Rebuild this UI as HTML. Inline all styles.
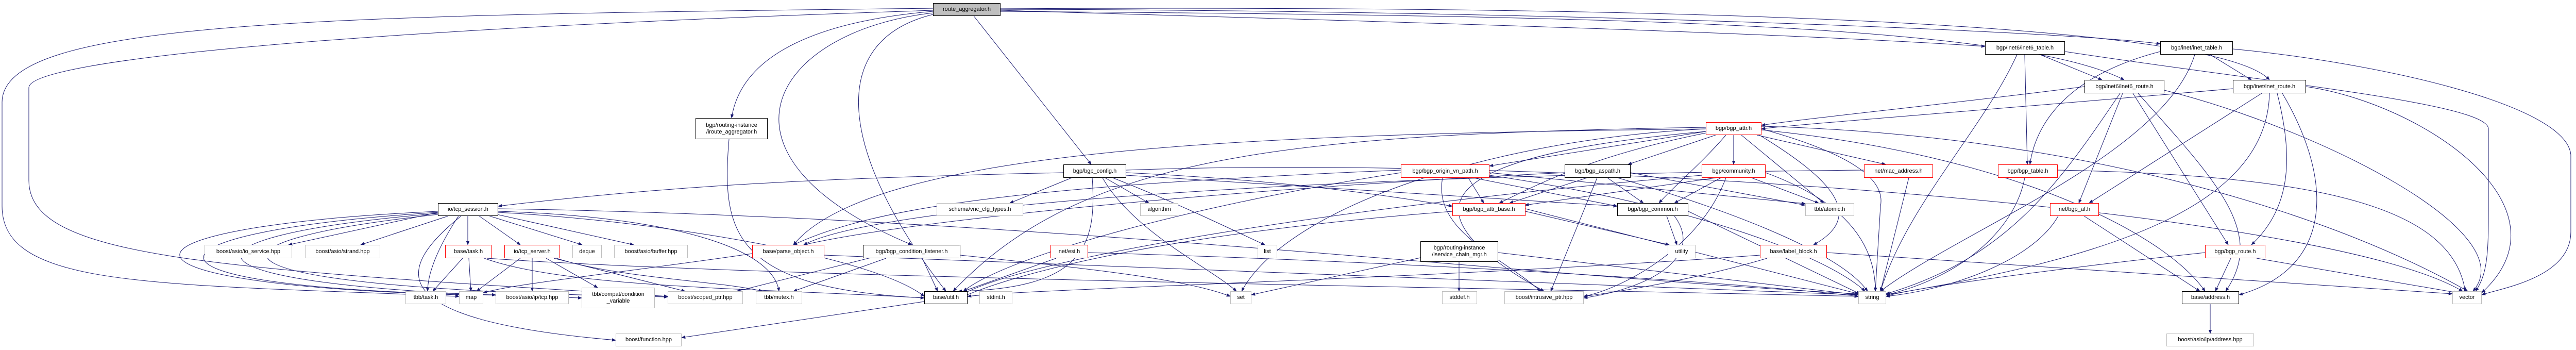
<!DOCTYPE html>
<html><head><meta charset="utf-8"><style>
body{margin:0;width:5090px;height:679px;background:#fff;position:relative;overflow:hidden;font-family:"Liberation Sans",sans-serif}
svg{position:absolute;left:0;top:0}
.n{position:absolute;box-sizing:border-box;border:1px solid #bfbfbf;background:#fff;font-size:11px;line-height:13px;color:#000;display:flex;align-items:center;justify-content:center;text-align:center;white-space:nowrap}
.b{border:1.5px solid #000}
.r{border:1.5px solid #f00}
.g{background:#bfbfbf;border:1.5px solid #000}
</style></head><body>
<svg width="5090" height="679" viewBox="0 0 5090 679">
<defs><marker id="a" viewBox="0 0 10 10" refX="9" refY="5" markerWidth="8" markerHeight="8" orient="auto"><path d="M0,1 L10,5 L0,9 z" fill="#191970"/></marker></defs>
<g fill="none" stroke="#191970" stroke-width="1" marker-end="url(#a)">
<path d="M1811,22 C1600,40 1440,100 1420,229"/>
<path d="M1890,31 L2118,319"/>
<path d="M1811,25 C1500,60 1350,300 1770,475"/>
<path d="M1811,28 C1600,80 1630,300 1836,565"/>
<path d="M1811,16 C600,30 0,40 4,200 L4,400 C4,560 300,550 891,575"/>
<path d="M1811,20 C600,60 56,120 56,170 L56,350 C56,500 400,520 1296,575"/>
<path d="M1942,20 C2600,40 3400,60 3853,90"/>
<path d="M1942,18 C3000,20 4000,60 4193,85"/>
<path d="M1942,22 C3000,30 3900,40 4123,155"/>
<path d="M1942,17 C3200,10 4300,40 4405,155"/>
<path d="M1415,270 C1400,450 1420,560 1794,578"/>
<path d="M2080,345 L1960,394"/>
<path d="M2145,345 L2230,394"/>
<path d="M2140,345 C2200,450 2350,520 2400,565"/>
<path d="M2120,345 C2130,480 2100,560 1860,565"/>
<path d="M2064,335 C1600,345 1300,360 967,400"/>
<path d="M2160,345 C2300,400 2400,450 2455,475"/>
<path d="M2186,340 L3139,400"/>
<path d="M2186,335 C2500,350 2700,380 2819,400"/>
<path d="M2186,330 C3000,300 4500,400 4780,565"/>
<path d="M850,412 L560,475"/>
<path d="M870,419 L700,475"/>
<path d="M908,419 L908,475"/>
<path d="M930,419 L1010,475"/>
<path d="M950,419 L1130,475"/>
<path d="M960,415 L1230,475"/>
<path d="M890,419 C850,480 830,530 830,565"/>
<path d="M850,410 C200,440 150,550 891,572"/>
<path d="M850,412 C250,450 200,560 962,572"/>
<path d="M850,414 C300,460 300,560 1129,578"/>
<path d="M850,416 C350,470 350,560 1296,576"/>
<path d="M967,410 C1300,420 1500,480 1512,565"/>
<path d="M895,419 C770,520 730,620 1195,660"/>
<path d="M967,412 C1300,430 1700,500 1794,575"/>
<path d="M967,405 C2000,420 3000,540 3607,570"/>
<path d="M898,501 L840,565"/>
<path d="M910,501 L914,565"/>
<path d="M940,501 C1100,560 1500,560 1794,578"/>
<path d="M945,501 C1500,540 3000,560 3607,575"/>
<path d="M1010,501 L925,565"/>
<path d="M1033,501 L1033,565"/>
<path d="M1060,501 L1160,558"/>
<path d="M1075,501 L1330,565"/>
<path d="M1080,501 C1200,540 1400,545 1480,565"/>
<path d="M1600,495 C2500,530 3300,560 3607,572"/>
<path d="M1460,492 C1200,530 1000,550 938,568"/>
<path d="M1720,501 L1540,565"/>
<path d="M1790,501 L1820,565"/>
<path d="M1690,500 L1430,565"/>
<path d="M1864,495 C2100,520 2300,540 2388,575"/>
<path d="M2050,501 L1870,565"/>
<path d="M2112,490 C2800,510 3400,550 3607,575"/>
<path d="M1794,585 L1323,655"/>
<path d="M3311,255 L2891,322"/>
<path d="M3330,262 L3160,319"/>
<path d="M3365,262 L3365,319"/>
<path d="M3410,262 L3660,319"/>
<path d="M3380,262 L3540,394"/>
<path d="M3311,258 C3100,300 3000,350 2910,394"/>
<path d="M3415,262 C3560,350 3620,420 3520,475"/>
<path d="M3419,250 C3600,300 3660,350 3650,400 L3640,565"/>
<path d="M3311,250 C2500,260 1700,280 1540,475"/>
<path d="M3311,255 C2800,300 2700,400 2997,565"/>
<path d="M3419,245 C4000,260 4500,400 4790,565"/>
<path d="M3419,252 C3900,300 4200,450 4280,565"/>
<path d="M3311,247 C2500,260 2100,300 1850,565"/>
<path d="M3311,250 C2900,270 2500,400 2410,565"/>
<path d="M3350,262 C3300,320 3250,360 3220,394"/>
<path d="M4046,168 C3800,200 3500,230 3419,243"/>
<path d="M4334,172 C3900,210 3500,240 3419,250"/>
<path d="M3960,106 L4080,155"/>
<path d="M3930,106 L3935,319"/>
<path d="M4008,100 C4400,160 4830,200 4830,250 L4830,400 C4830,480 4830,530 4805,565"/>
<path d="M3915,106 C3850,250 3700,400 3650,565"/>
<path d="M4290,106 L4370,155"/>
<path d="M4193,100 C4000,150 3950,250 3940,319"/>
<path d="M4334,95 C4600,120 4980,200 4990,300 L4990,450 C4990,540 4850,560 4817,572"/>
<path d="M4260,106 C4200,300 3800,450 3650,565"/>
<path d="M4120,181 L4035,394"/>
<path d="M4140,181 L4325,475"/>
<path d="M4150,181 C4300,350 4400,450 4320,565"/>
<path d="M4115,181 C4000,350 3900,500 3661,570"/>
<path d="M4201,175 C4500,250 4900,450 4800,565"/>
<path d="M4390,181 L4055,394"/>
<path d="M4420,181 C4450,300 4450,400 4370,475"/>
<path d="M4430,181 C4530,350 4530,520 4346,572"/>
<path d="M4405,181 C4400,400 4100,500 3661,572"/>
<path d="M4476,168 C4700,200 5000,400 4817,568"/>
<path d="M3930,345 C3910,450 3800,540 3661,572"/>
<path d="M3994,330 C4500,340 4760,400 4785,565"/>
<path d="M4045,419 L4270,565"/>
<path d="M3995,419 C3950,500 3800,560 3661,575"/>
<path d="M4330,501 L4300,565"/>
<path d="M4380,501 L4770,568"/>
<path d="M4280,490 C4000,520 3700,560 3661,575"/>
<path d="M4290,590 L4290,647"/>
<path d="M2850,345 L2880,394"/>
<path d="M2860,345 L3139,400"/>
<path d="M2800,345 C2780,450 2920,500 2990,565"/>
<path d="M2891,340 C3300,400 3550,500 3620,565"/>
<path d="M2891,335 L3504,395"/>
<path d="M2719,335 C2300,400 1950,500 1870,565"/>
<path d="M2719,330 C2000,360 1700,400 1540,475"/>
<path d="M3080,345 L2930,394"/>
<path d="M3120,345 L3190,394"/>
<path d="M3100,345 L3010,565"/>
<path d="M3140,345 C3400,420 3580,500 3625,565"/>
<path d="M3165,335 L3504,398"/>
<path d="M3037,335 C2500,360 1800,420 1560,475"/>
<path d="M3330,345 L2960,398"/>
<path d="M3340,345 L3250,394"/>
<path d="M3400,345 L3530,394"/>
<path d="M3350,345 C3300,480 3150,560 3074,575"/>
<path d="M3427,335 C3550,380 3640,450 3640,565"/>
<path d="M3303,340 C2600,400 2000,500 1870,570"/>
<path d="M3705,345 L3650,565"/>
<path d="M3618,330 C2500,340 1700,400 1560,475"/>
<path d="M2961,410 L3240,475"/>
<path d="M2961,405 L3607,570"/>
<path d="M2819,410 C2300,450 2000,520 1870,575"/>
<path d="M3235,419 L3255,475"/>
<path d="M3250,419 C3310,500 3200,560 3074,578"/>
<path d="M3277,410 L3610,570"/>
<path d="M2832,508 L2832,565"/>
<path d="M2908,490 L3607,572"/>
<path d="M2757,500 L2429,572"/>
<path d="M3430,501 C3300,540 3150,565 3074,575"/>
<path d="M3546,490 L4760,570"/>
<path d="M3416,495 C2800,540 2000,560 1878,575"/>
</g>
</svg>
<div class="n g" style="left:1811px;top:6px;width:131px;height:25px">route_aggregator.h</div>
<div class="n b" style="left:1350px;top:229px;width:140px;height:41px">bgp/routing-instance<br>/iroute_aggregator.h</div>
<div class="n b" style="left:2064px;top:319px;width:122px;height:26px">bgp/bgp_config.h</div>
<div class="n b" style="left:850px;top:394px;width:117px;height:25px">io/tcp_session.h</div>
<div class="n" style="left:1818px;top:394px;width:168px;height:25px">schema/vnc_cfg_types.h</div>
<div class="n" style="left:2213px;top:394px;width:74px;height:25px">algorithm</div>
<div class="n" style="left:397px;top:475px;width:170px;height:26px">boost/asio/io_service.hpp</div>
<div class="n" style="left:592px;top:475px;width:146px;height:26px">boost/asio/strand.hpp</div>
<div class="n r" style="left:864px;top:475px;width:90px;height:26px">base/task.h</div>
<div class="n r" style="left:979px;top:475px;width:108px;height:26px">io/tcp_server.h</div>
<div class="n" style="left:1111px;top:475px;width:57px;height:26px">deque</div>
<div class="n" style="left:1192px;top:475px;width:143px;height:26px">boost/asio/buffer.hpp</div>
<div class="n r" style="left:1460px;top:475px;width:140px;height:26px">base/parse_object.h</div>
<div class="n b" style="left:1675px;top:475px;width:189px;height:26px">bgp/bgp_condition_listener.h</div>
<div class="n r" style="left:2039px;top:475px;width:73px;height:26px">net/esi.h</div>
<div class="n" style="left:2441px;top:475px;width:38px;height:26px">list</div>
<div class="n" style="left:787px;top:565px;width:79px;height:25px">tbb/task.h</div>
<div class="n" style="left:891px;top:565px;width:47px;height:25px">map</div>
<div class="n" style="left:962px;top:565px;width:142px;height:25px">boost/asio/ip/tcp.hpp</div>
<div class="n" style="left:1129px;top:558px;width:142px;height:40px">tbb/compat/condition<br>_variable</div>
<div class="n" style="left:1296px;top:565px;width:146px;height:25px">boost/scoped_ptr.hpp</div>
<div class="n" style="left:1467px;top:565px;width:90px;height:25px">tbb/mutex.h</div>
<div class="n b" style="left:1794px;top:565px;width:84px;height:25px">base/util.h</div>
<div class="n" style="left:1901px;top:565px;width:64px;height:25px">stdint.h</div>
<div class="n" style="left:2388px;top:565px;width:41px;height:25px">set</div>
<div class="n" style="left:1195px;top:647px;width:128px;height:25px">boost/function.hpp</div>
<div class="n r" style="left:3311px;top:237px;width:108px;height:25px">bgp/bgp_attr.h</div>
<div class="n r" style="left:2719px;top:319px;width:172px;height:26px">bgp/bgp_origin_vn_path.h</div>
<div class="n b" style="left:3037px;top:319px;width:128px;height:26px">bgp/bgp_aspath.h</div>
<div class="n r" style="left:3303px;top:319px;width:124px;height:26px">bgp/community.h</div>
<div class="n r" style="left:3618px;top:319px;width:134px;height:26px">net/mac_address.h</div>
<div class="n r" style="left:3878px;top:319px;width:116px;height:26px">bgp/bgp_table.h</div>
<div class="n r" style="left:2819px;top:394px;width:142px;height:25px">bgp/bgp_attr_base.h</div>
<div class="n b" style="left:3139px;top:394px;width:138px;height:25px">bgp/bgp_common.h</div>
<div class="n" style="left:3504px;top:394px;width:95px;height:25px">tbb/atomic.h</div>
<div class="n r" style="left:3979px;top:394px;width:95px;height:25px">net/bgp_af.h</div>
<div class="n b" style="left:2757px;top:468px;width:151px;height:40px">bgp/routing-instance<br>/iservice_chain_mgr.h</div>
<div class="n" style="left:3237px;top:475px;width:54px;height:26px">utility</div>
<div class="n r" style="left:3416px;top:475px;width:130px;height:26px">base/label_block.h</div>
<div class="n r" style="left:4280px;top:475px;width:117px;height:26px">bgp/bgp_route.h</div>
<div class="n" style="left:2799px;top:565px;width:68px;height:25px">stddef.h</div>
<div class="n" style="left:2920px;top:565px;width:154px;height:25px">boost/intrusive_ptr.hpp</div>
<div class="n" style="left:3607px;top:565px;width:54px;height:25px">string</div>
<div class="n b" style="left:4235px;top:565px;width:111px;height:25px">base/address.h</div>
<div class="n" style="left:4760px;top:565px;width:57px;height:25px">vector</div>
<div class="n" style="left:4205px;top:647px;width:170px;height:25px">boost/asio/ip/address.hpp</div>
<div class="n b" style="left:3853px;top:80px;width:155px;height:26px">bgp/inet6/inet6_table.h</div>
<div class="n b" style="left:4193px;top:80px;width:141px;height:26px">bgp/inet/inet_table.h</div>
<div class="n b" style="left:4046px;top:155px;width:155px;height:26px">bgp/inet6/inet6_route.h</div>
<div class="n b" style="left:4334px;top:155px;width:142px;height:26px">bgp/inet/inet_route.h</div>
</body></html>
